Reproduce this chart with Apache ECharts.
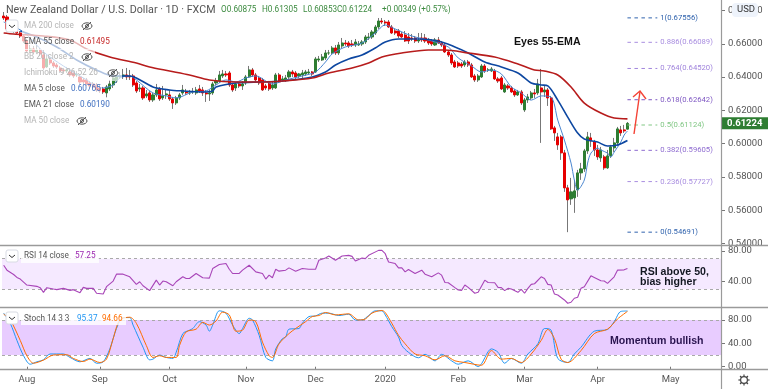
<!DOCTYPE html>
<html><head><meta charset="utf-8"><style>html,body{margin:0;padding:0;background:#fff}#c{width:768px;height:389px}</style>
<script src="https://cdn.jsdelivr.net/npm/echarts@6/dist/echarts.min.js"></script></head><body><div id="c"></div>
<script>
const monthLabels={7:'Aug',29:'Sep',50:'Oct',73:'Nov',94:'Dec',115:'2020',137:'Feb',157:'Mar',179:'Apr',201:'May'};
const barCount=217;
const priceTicks=[0.54,0.56,0.58,0.60,0.62,0.64,0.66,0.68];
const rsiTicks=[40,80], stochTicks=[0,40,80];
const rsiBand=[30,70], stochBand=[20,80];
const opens=[.6767,.6761,.6689,.6683,.6677,.6665,.6647,.6617,.6557,.6569,.6551,.6563,.6533,.6461,.6503,.6485,.6473,.6455,.6443,.6437,.6431,.6425,.6413,.6401,.6383,.6383,.6365,.6359,.6353,.6335,.6329,.6305,.6329,.6353,.6377,.6401,.6407,.6413,.6407,.6407,.6365,.6329,.6335,.6287,.6305,.6263,.6293,.6329,.6275,.6293,.6293,.6269,.6245,.6275,.6305,.6311,.6305,.6311,.6305,.6329,.6323,.6305,.6299,.6305,.6365,.6377,.6407,.6419,.6425,.6353,.6335,.6359,.6347,.6365,.6401,.6443,.6413,.6395,.6383,.6347,.6365,.6335,.6335,.6413,.6383,.6383,.6401,.6431,.6425,.6407,.6413,.6419,.6425,.6431,.6431,.6503,.6503,.6515,.6545,.6545,.6575,.6545,.6587,.6605,.6605,.6599,.6593,.6593,.6599,.6611,.6635,.6641,.6665,.6701,.6737,.6731,.6731,.6701,.6677,.6677,.6659,.6653,.6641,.6635,.6635,.6617,.6635,.6635,.6623,.6617,.6593,.6623,.6605,.6593,.6551,.6533,.6491,.6485,.6479,.6473,.6491,.6473,.6407,.6383,.6401,.6467,.6443,.6437,.6437,.6389,.6395,.6311,.6347,.6335,.6317,.6293,.6311,.6203,.6263,.6275,.6305,.6305,.6335,.6311,.6323,.6275,.6095,.6041,.6041,.5945,.5735,.5669,.5675,.5723,.5825,.5849,.5957,.6035,.6011,.5963,.5915,.5921,.5855,.5927,.5975,.6005,.6083,.6083,.60875];
const closes=[.6755,.6689,.6683,.6677,.6665,.6647,.6617,.6557,.6569,.6551,.6563,.6539,.6455,.6509,.6485,.6467,.6461,.6437,.6437,.6443,.6413,.6407,.6419,.6371,.6371,.6359,.6347,.6341,.6323,.6317,.6311,.6341,.6359,.6395,.6407,.6407,.6413,.6401,.6401,.6353,.6317,.6335,.6275,.6299,.6263,.6293,.6323,.6269,.6287,.6299,.6269,.6245,.6275,.6293,.6323,.6305,.6305,.6311,.6323,.6317,.6305,.6299,.6305,.6359,.6377,.6413,.6419,.6413,.6353,.6323,.6359,.6347,.6359,.6401,.6443,.6413,.6383,.6365,.6323,.6335,.6329,.6353,.6413,.6371,.6389,.6395,.6431,.6419,.6401,.6419,.6425,.6431,.6431,.6419,.6509,.6509,.6521,.6545,.6545,.6575,.6545,.6593,.6605,.6599,.6587,.6593,.6611,.6599,.6611,.6641,.6641,.6671,.6701,.6737,.6731,.6725,.6701,.6665,.6665,.6647,.6641,.6617,.6617,.6629,.6617,.6623,.6623,.6617,.6605,.6599,.6623,.6605,.6593,.6551,.6533,.6485,.6461,.6467,.6467,.6491,.6473,.6401,.6383,.6407,.6467,.6437,.6443,.6449,.6389,.6377,.6329,.6353,.6335,.6311,.6293,.6311,.6245,.6263,.6281,.6305,.6299,.6359,.6311,.6323,.6275,.6089,.6065,.5993,.5945,.5735,.5663,.5711,.5717,.5825,.5849,.5957,.6041,.6017,.5963,.5921,.5963,.5855,.5927,.5981,.6005,.6089,.6065,.6077,.61224];
const highs=[.6791,.6773,.6701,.6695,.6689,.6677,.6659,.6629,.6593,.6587,.6593,.6575,.6563,.6533,.6521,.6497,.6485,.6467,.6455,.6461,.6443,.6437,.6437,.6413,.6395,.6395,.6377,.6371,.6365,.6353,.6341,.6353,.6383,.6407,.6419,.6431,.6449,.6455,.6443,.6419,.6377,.6359,.6347,.6323,.6317,.6305,.6359,.6341,.6347,.6329,.6323,.6281,.6287,.6305,.6353,.6329,.6323,.6335,.6341,.6353,.6341,.6323,.6323,.6371,.6395,.6437,.6443,.6437,.6437,.6365,.6371,.6371,.6377,.6413,.6467,.6455,.6425,.6407,.6395,.6359,.6377,.6371,.6425,.6425,.6407,.6413,.6443,.6443,.6437,.6425,.6443,.6443,.6449,.6437,.6521,.6527,.6539,.6563,.6563,.6587,.6593,.6611,.6635,.6623,.6617,.6623,.6629,.6617,.6623,.6653,.6665,.6683,.6713,.6755,.6755,.6743,.6743,.6713,.6689,.6689,.6671,.6677,.6665,.6659,.6647,.6665,.6665,.6659,.6635,.6629,.6635,.6641,.6617,.6605,.6563,.6545,.6503,.6497,.6491,.6503,.6503,.6485,.6419,.6419,.6479,.6479,.6455,.6461,.6449,.6401,.6407,.6365,.6359,.6347,.6329,.6323,.6323,.6275,.6299,.6317,.6329,.6389,.6449,.6353,.6335,.6287,.6107,.6065,.6053,.5963,.5753,.5795,.5783,.5843,.5885,.5969,.6071,.6065,.6023,.5993,.5981,.5933,.5963,.5993,.6035,.6101,.6107,.6113,.61305];
const lows=[.6743,.6683,.6671,.6665,.6653,.6635,.6605,.6545,.6545,.6539,.6539,.6527,.6443,.6455,.6473,.6455,.6449,.6425,.6419,.6425,.6401,.6395,.6401,.6359,.6353,.6347,.6335,.6329,.6311,.6305,.6299,.6275,.6317,.6335,.6365,.6389,.6389,.6383,.6383,.6341,.6305,.6311,.6263,.6275,.6251,.6251,.6281,.6257,.6263,.6269,.6257,.6209,.6233,.6263,.6293,.6293,.6293,.6299,.6293,.6305,.6287,.6251,.6257,.6293,.6353,.6365,.6395,.6401,.6341,.6311,.6317,.6335,.6323,.6353,.6395,.6401,.6371,.6353,.6317,.6323,.6317,.6323,.6329,.6365,.6371,.6371,.6389,.6401,.6389,.6395,.6395,.6407,.6413,.6407,.6425,.6491,.6497,.6503,.6533,.6533,.6533,.6533,.6575,.6587,.6575,.6581,.6581,.6587,.6587,.6599,.6623,.6629,.6653,.6689,.6719,.6707,.6695,.6659,.6653,.6635,.6635,.6611,.6599,.6617,.6605,.6605,.6611,.6605,.6593,.6587,.6587,.6599,.6581,.6545,.6521,.6473,.6455,.6455,.6455,.6461,.6461,.6395,.6371,.6371,.6395,.6425,.6431,.6431,.6383,.6365,.6323,.6305,.6323,.6305,.6281,.6287,.6233,.6191,.6245,.6263,.6275,.6293,.6005,.6281,.6227,.6083,.6017,.5963,.5903,.5711,.54691,.5633,.5585,.5681,.5783,.5831,.5939,.5981,.5927,.5903,.5891,.5843,.5849,.5915,.5951,.5987,.6047,.6065,.60853];
const ema55=[[0,.6665],[3,.6659],[12,.6647],[20,.6623],[25,.6569],[32,.6521],[40,.6485],[44,.6461],[50,.6437],[56,.6413],[62,.6383],[70,.6371],[78,.6371],[84,.6377],[93,.6395],[98,.6425],[105,.6455],[110,.6485],[114,.6521],[120,.6545],[128,.6563],[133,.6563],[140,.6545],[148,.6521],[155,.6479],[160,.6443],[163,.6437],[167,.6413],[171,.6341],[175,.6244],[180,.6184],[184,.6154],[188,.61495]];
const ema21=[[5,.6677],[10,.6641],[16,.6581],[22,.6503],[28,.6443],[33,.6407],[38,.6407],[40,.6395],[45,.6341],[50,.6323],[54,.6317],[60,.6311],[63,.6317],[64,.6341],[70,.6365],[78,.6371],[84,.6377],[93,.6401],[97,.6431],[100,.6473],[104,.6509],[108,.6533],[112,.6575],[115,.6611],[119,.6629],[125,.6629],[131,.6617],[136,.6581],[140,.6545],[145,.6491],[150,.6461],[155,.6425],[159,.6365],[162,.6353],[164,.6347],[167,.6262],[170,.616],[173,.6064],[175,.6028],[179,.601],[182,.5986],[185,.5992],[188,.6019]];
const ma5=[[0,.6731],[6,.6671],[12,.6551],[18,.6467],[24,.6395],[30,.6335],[33,.6353],[35,.6395],[38,.6407],[40,.6383],[45,.6305],[49,.6287],[52,.6275],[57,.6311],[61,.6317],[64,.6353],[67,.6383],[70,.6371],[73,.6395],[76,.6407],[81,.6359],[85,.6383],[90,.6407],[94,.6431],[97,.6491],[99,.6539],[103,.6581],[108,.6605],[112,.6665],[115,.6713],[118,.6689],[123,.6647],[129,.6617],[134,.6581],[137,.6515],[141,.6467],[144,.6431],[147,.6443],[150,.6419],[153,.6341],[156,.6305],[159,.6262],[162,.6287],[165,.628],[167,.6142],[169,.6022],[171,.5884],[172,.5782],[173,.5722],[175,.5782],[176,.5884],[177,.5944],[179,.5974],[180,.5962],[182,.5944],[183,.592],[184,.595],[186,.601],[187,.6052],[188,.60765]];
const rsi=[[0,61.4],[1,55],[3,49.4],[4,45.5],[5,43.4],[7,35.6],[10,33.9],[11,32.2],[12,26.1],[13,32.2],[15,30.4],[16,29.6],[18,31.3],[20,28.7],[21,29.6],[23,25.7],[24,32.6],[25,31.3],[27,31.3],[28,24.9],[30,24],[31,33.5],[33,40.8],[34,49.8],[36,49.8],[38,46.4],[40,36.5],[41,39.9],[42,34.7],[44,28.3],[46,42],[47,35.6],[48,40.8],[49,39.9],[51,34.7],[52,39.9],[54,46.4],[55,44.2],[56,44.2],[58,50.7],[60,45.1],[62,44.6],[63,57.1],[65,62.3],[67,63.6],[68,56.2],[69,50.7],[71,50.7],[72,55],[74,61.4],[76,52.8],[78,50.7],[79,43.4],[80,48.5],[81,45.1],[82,56.2],[83,53.7],[85,55],[86,58],[88,53.7],[90,57.1],[92,56.2],[94,56.2],[95,67.9],[97,70.9],[98,73.4],[100,67.9],[102,73.4],[104,74.3],[105,73],[106,67],[108,70.9],[109,70],[110,74.3],[113,80.8],[114,80.8],[115,76.5],[116,65.7],[118,63.6],[119,58],[120,58],[121,52.8],[122,55.8],[124,50.7],[126,55],[127,49.8],[129,46.4],[131,51.5],[132,48.5],[133,39],[134,38.6],[136,32.2],[137,29.2],[138,28.7],[139,35.6],[140,32.6],[142,24.9],[143,26.1],[145,42],[146,39],[148,38.6],[149,32.6],[150,32.2],[151,28.3],[152,31.3],[153,30.4],[155,26.1],[156,30],[157,24.9],[158,31.3],[159,36.5],[160,37.3],[162,46.4],[163,44.2],[164,36.5],[165,35.6],[166,24],[167,22.7],[169,16.2],[170,11.9],[171,13.2],[172,18.4],[173,19.7],[174,31.3],[175,33.5],[177,47.6],[178,45.5],[180,41.2],[181,40.8],[182,37.8],[184,46.4],[185,55],[187,55.4],[188,57.25]];
const stochK=[[0,91.7],[2,74.2],[4,45],[6,18.8],[8,4.3],[10,8.4],[12,11.8],[14,21.8],[18,21.8],[20,15.9],[23,8.4],[26,14.2],[28,6],[30,8.4],[32,30.5],[34,65.4],[36,84.1],[38,84.1],[39,71.3],[42,33.4],[44,11.8],[45,13],[47,20],[49,15.9],[51,14.2],[52,24.7],[54,56.7],[56,62.5],[57,65.4],[59,77.1],[61,71.3],[62,60.8],[63,71.3],[65,95.7],[67,91.7],[69,71.3],[71,56.7],[72,65.4],[74,82.9],[75,80],[77,53.8],[79,15.9],[81,10.1],[82,30.5],[84,48],[85,50.9],[86,64.3],[89,65.4],[90,74.2],[92,85.8],[94,87],[96,91.7],[98,91.7],[101,87.6],[104,89.9],[106,80],[108,80],[110,87.6],[112,95.7],[114,95.7],[115,88.7],[117,68.4],[119,50.9],[120,36.3],[122,24.7],[125,15.3],[127,21.2],[130,10.1],[132,21.2],[135,10.1],[137,4.3],[140,10.1],[143,0.2],[147,30.5],[149,24.7],[151,6],[153,14.2],[156,6],[158,21.8],[161,39.2],[163,65.4],[165,62.5],[167,14.2],[170,7.2],[172,21.8],[174,33.4],[178,60.8],[182,63.7],[184,77.1],[186,94.6],[188,95.37]];
const stochD=[[0,89.9],[2,80],[5,45],[7,18.8],[9,6],[12,11.3],[15,20],[19,20.6],[21,14.2],[24,8.9],[26,13],[29,7.2],[31,13],[33,48],[35,80],[38,84.7],[40,74.2],[43,36.3],[45,15.9],[47,18.8],[49,15.9],[52,15.9],[53,36.3],[55,59.6],[58,64.3],[60,75.9],[62,71.3],[64,78.3],[66,93.4],[68,88.7],[70,60.8],[72,62.5],[74,80],[76,77.1],[78,42.1],[80,18.8],[81,15.9],[83,39.2],[86,56.7],[88,65.4],[91,77.1],[93,85.8],[95,87.6],[97,92.8],[100,88.7],[104,90.5],[107,80],[109,81.7],[111,91.7],[114,96.3],[115,92.8],[117,74.2],[119,53.8],[121,39.2],[124,21.8],[127,18.8],[130,11.8],[133,18.8],[136,10.1],[139,7.2],[144,2.5],[147,27.6],[150,13],[153,14.2],[156,7.2],[159,21.8],[162,45],[164,63.7],[166,48],[168,13],[170,7.2],[174,27.6],[178,56.7],[182,64.3],[185,81.7],[188,94.66]];
const fibLevels=[1,0.886,0.764,0.618,0.5,0.382,0.236,0];
const fibPrices=[0.67556,0.66089,0.64520,0.62642,0.61124,0.59605,0.57727,0.54691];
const fibColors=['#2f62ad','#a98ee0','#a084dc','#7e57c2','#81c784','#8e6bd0','#a98ee0','#2f62ad'];
const fibSpan=[188,197];

const UP='#2e7d32',DOWN='#e60000',FONT='Roboto, "Noto Sans", sans-serif',BOLD='"Liberation Sans", Arial, sans-serif';
const cats=Array.from({length:barCount},(_,i)=>String(i));
const wick=opens.map((o,i)=>[o,closes[i],lows[i],highs[i]]);
const body=opens.map((o,i)=>[o,closes[i],Math.min(o,closes[i]),Math.max(o,closes[i])]);
const chart=echarts.init(document.getElementById('c'),null,{renderer:'canvas'});
const xBase=g=>({type:'category',gridIndex:g,data:cats,boundaryGap:true,axisLine:{show:false},axisTick:{show:false},axisLabel:{show:false},splitLine:{show:false}});
const yBase=(g,min,max,ticks,dp)=>({type:'value',gridIndex:g,position:'right',offset:-1,min,max,splitLine:{show:false},
  axisLine:{show:false},axisTick:{show:true,length:4,lineStyle:{color:'#777'},customValues:ticks},
  axisLabel:{show:true,color:'#555',fontFamily:FONT,fontSize:9.5,margin:7,customValues:ticks,formatter:v=>v.toFixed(dp)}});
const lineS=(name,data,color,width,x,y,smooth)=>({name,type:'line',data,xAxisIndex:x,yAxisIndex:y,symbol:'none',smooth:smooth,lineStyle:{color,width},z:5,silent:true});
const bandMark=(band,fill)=>({
  markArea:{silent:true,z:1,itemStyle:{color:fill},data:[[{yAxis:band[0]},{yAxis:band[1]}]]},
  markLine:{silent:true,z:1,symbol:'none',label:{show:false},lineStyle:{color:'#a9a9a9',type:[3,3],width:1},data:band.map(b=>({yAxis:b}))}
});
const fibSeries=fibPrices.map((p,k)=>({name:'fib'+k,type:'line',xAxisIndex:0,yAxisIndex:0,symbol:'none',silent:true,z:4,
  data:[[fibSpan[0],p],[fibSpan[1],p]],lineStyle:{color:fibColors[k],width:1,type:[3.5,3.5]},
  endLabel:{show:true,distance:3,color:fibColors[k],fontFamily:FONT,fontSize:7.7,formatter:()=>fibLevels[k]+'('+p.toFixed(5)+')'}}));
chart.setOption({
  animation:false,backgroundColor:'#fff',
  grid:[{left:2,width:720,top:0,height:245},{left:2,width:720,top:246,height:61},{left:2,width:720,top:308,height:61}],
  xAxis:[xBase(0),xBase(1),Object.assign(xBase(2),{
    axisTick:{show:true,length:3,alignWithLabel:true,lineStyle:{color:'#777'},interval:i=>monthLabels[i]!==undefined},
    axisLabel:{show:true,color:'#555',fontFamily:FONT,fontSize:9.5,margin:6,interval:i=>monthLabels[i]!==undefined,formatter:(v,i)=>monthLabels[i]||''}})],
  yAxis:[yBase(0,0.5392,0.6863,priceTicks,5),yBase(1,7,86.5,rsiTicks,2),yBase(2,-3.9,100.5,stochTicks,2)],
  series:[
    {name:'wick',type:'candlestick',data:wick,xAxisIndex:0,yAxisIndex:0,barWidth:1,silent:true,z:2,itemStyle:{color:'#777',color0:'#777',borderColor:'#777',borderColor0:'#777',borderWidth:1}},
    {name:'body',type:'candlestick',data:body,xAxisIndex:0,yAxisIndex:0,barWidth:2.6,silent:true,z:3,itemStyle:{color:UP,color0:DOWN,borderColor:UP,borderColor0:DOWN,borderWidth:1}},
    lineS('MA 5',ma5,'#4a86d0',1,0,0,0.3),
    lineS('EMA 21',ema21,'#0d47a1',1.6,0,0,0.3),
    lineS('EMA 55',ema55,'#b71c1c',1.6,0,0,0.3),
    ...fibSeries,
    Object.assign(lineS('RSI',rsi,'#a845b8',1.1,1,1,false),bandMark(rsiBand,'#f5e9ff')),
    Object.assign(lineS('%K',stochK,'#2196f3',1,2,2,0.3),bandMark(stochBand,'#e8ccff')),
    lineS('%D',stochD,'#ff6d00',1,2,2,0.3)
  ]
});
// annotations and chrome
const Z=100, G=[];
const LEG='8.2px '+FONT;
const txt=(x,y,s,color,o)=>G.push({type:'text',z:Z+2,x,y,style:Object.assign({text:s,fill:color,font:LEG,textVerticalAlign:'middle',textAlign:'left'},o||{})});
const rect=(x,y,w,h,fill,extra)=>G.push({type:'rect',z:Z+1,shape:Object.assign({x,y,width:w,height:h},extra&&extra.shape||{}),style:Object.assign({fill},extra&&extra.style||{})});
const line=(x1,y1,x2,y2,stroke,w)=>G.push({type:'line',z:Z+3,shape:{x1,y1,x2,y2},style:{stroke,lineWidth:w||1}});
const poly=(pts,stroke,w)=>G.push({type:'polyline',z:Z+3,shape:{points:pts},style:{stroke,lineWidth:w||1,fill:null}});
const eye=(x,y)=>{G.push({type:'ellipse',z:Z+3,shape:{cx:x,cy:y,rx:5,ry:3.2},style:{stroke:'#555',fill:null,lineWidth:1}});
  G.push({type:'circle',z:Z+3,shape:{cx:x,cy:y,r:1.5},style:{stroke:'#555',fill:null,lineWidth:1}});line(x-4,y+4,x+4,y-4,'#555',1);};
const chev=(x,y,w,h)=>{rect(x,y,w,h,'#fff',{shape:{r:2},style:{stroke:'#d8dbe3',lineWidth:1}});poly([[x+w/2-3,y+h/2-1],[x+w/2,y+h/2+1.5],[x+w/2+3,y+h/2-1]],'#333',1);};
// pane rules
[245.5,307.5,369.5].forEach(y=>line(0,y,768,y,'#9a9a9a',1.4));
line(721.5,0,721.5,389,'#9a9a9a',1.2);
// title
txt(6,10,'New Zealand Dollar / U.S. Dollar · 1D · FXCM','#555',{font:'10.7px '+FONT});
const OHLC='#3d8b40';
txt(221,10,'O0.60875',OHLC);txt(262,10,'H0.61305',OHLC);txt(303,10,'L0.60853',OHLC);
txt(337,10,'C0.61224',OHLC);txt(382,10,'+0.00349 (+0.57%)',OHLC);
// legend rows
const rows=[['MA 200 close',26,71,'#b5b5b5'],['EMA 55 close',42,89,'#555'],['BB 20 close 2',57,73,'#b5b5b5'],['Ichimoku 9 26 52 26',73,100,'#b5b5b5'],['MA 5 close',89,80,'#555'],['EMA 21 close',105,90,'#555'],['MA 50 close',121,68,'#b5b5b5']];
rows.forEach(r=>{rect(22,r[1]-8,r[2],16,'rgba(255,255,255,0.68)');txt(24,r[1],r[0],r[3]);});
txt(80,42,'0.61495','#c62828');txt(71,89,'0.60765','#3f6fc0');txt(80,105,'0.60190','#3f6fc0');
eye(87,26);eye(87,57);eye(113,73);eye(82,121);
chev(6,20,12,12);
// sub-pane legends
rect(21,250,78,13,'rgba(255,255,255,0.8)');txt(24,256,'RSI 14 close','#555');txt(75,256,'57.25','#9c27b0');chev(6,250,12,12);
rect(21,312,105,13,'rgba(255,255,255,0.8)');txt(24,318.5,'Stoch 14 3 3','#555');txt(77,318.5,'95.37','#2196f3');txt(102,318.5,'94.66','#ff6d00');chev(6,312,12,12);
// notes
const NOTE='bold 10.6px '+BOLD;
txt(514,42,'Eyes 55-EMA','#111',{font:NOTE});
txt(640,272,'RSI above 50,','#131722',{font:NOTE});txt(640,282.5,'bias higher','#131722',{font:NOTE});
txt(610,341,'Momentum bullish','#2a1450',{font:NOTE});
// arrow
poly([[634,134],[640,91.5]],'#f44336',1.4);poly([[633,97],[640,91],[646,99]],'#f44336',1.4);
// USD
rect(732,3,26,14,'#eef3fb',{shape:{r:4}});txt(737,10,'USD','#333',{font:'9.5px '+FONT});
// last price tag positioned by the price scale
const lastY=chart.convertToPixel({yAxisIndex:0},closes[closes.length-1]);
rect(722,lastY-6,46,12,'#2e7d32');txt(727,lastY,closes[closes.length-1].toFixed(5),'#fff',{font:'bold 9.5px '+FONT});
// gear
G.push({type:'circle',z:Z+3,shape:{cx:744,cy:380,r:3.4},style:{stroke:'#444',fill:null,lineWidth:1.2}});
for(let a=0;a<8;a++){const t=a*Math.PI/4;line(744+3.6*Math.cos(t),380+3.6*Math.sin(t),744+5.6*Math.cos(t),380+5.6*Math.sin(t),'#444',1.2);}
chart.setOption({graphic:{elements:G}});
</script></body></html>
